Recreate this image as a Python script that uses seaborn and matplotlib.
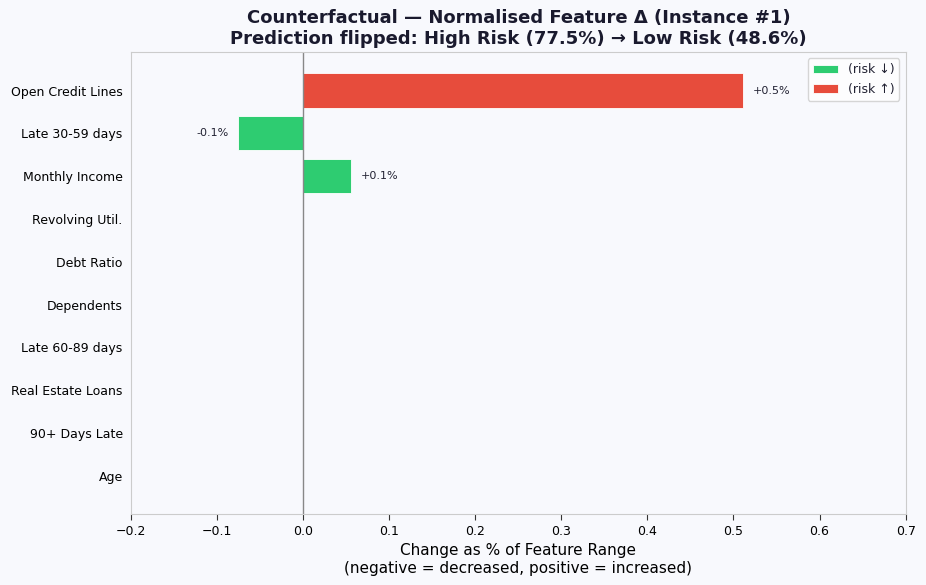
import matplotlib
matplotlib.use("Agg")
import matplotlib.pyplot as plt
import seaborn as sns
import pandas as pd

features = ["Open Credit Lines", "Late 30-59 days", "Monthly Income", "Revolving Util.",
            "Debt Ratio", "Dependents", "Late 60-89 days", "Real Estate Loans",
            "90+ Days Late", "Age"]
deltas = [0.511, -0.0755, 0.0557, 0.0, 0.0, 0.0, 0.0, 0.0, 0.0, 0.0]
labels = ["+0.5%", "-0.1%", "+0.1%", "", "", "", "", "", "", ""]
groups = ["(risk ↑)", "(risk ↓)", "(risk ↓)", "(risk ↓)", "(risk ↓)", "(risk ↓)",
          "(risk ↓)", "(risk ↓)", "(risk ↓)", "(risk ↓)"]

df = pd.DataFrame({"feature": features, "delta": deltas, "group": groups})

sns.set_style("white")
bg = "#f8f9fd"
fig, ax = plt.subplots(figsize=(9.26, 5.85), dpi=100)
fig.patch.set_facecolor(bg)
ax.set_facecolor(bg)

sns.barplot(data=df, x="delta", y="feature", hue="group", hue_order=["(risk ↓)", "(risk ↑)"],
            palette={"(risk ↓)": "#2ecc71", "(risk ↑)": "#e74c3c"}, dodge=False, saturation=1,
            orient="h", width=0.8, edgecolor="white", linewidth=0.6, ax=ax)

ax.axvline(0, color="#888888", linewidth=1.0)
for i, (v, t) in enumerate(zip(deltas, labels)):
    if not t:
        continue
    if v >= 0:
        ax.text(v + 0.011, i, t, ha="left", va="center", fontsize=8, color="#222233")
    else:
        ax.text(v - 0.011, i, t, ha="right", va="center", fontsize=8, color="#222233")

ax.set_xlim(-0.2, 0.7)
ax.set_ylim(9.9, -0.9)
ax.set_ylabel("")
ax.set_xlabel("Change as % of Feature Range\n(negative = decreased, positive = increased)",
              fontsize=11, color="black")
ax.set_title("Counterfactual — Normalised Feature Δ (Instance #1)\nPrediction flipped: High Risk (77.5%) → Low Risk (48.6%)",
             fontsize=13, fontweight="bold", color="#1a1a2e")
ax.tick_params(axis="both", labelsize=9, length=4, color="#333333", labelcolor="black")
ax.tick_params(axis="y", length=0, pad=6)
ax.tick_params(axis="x", bottom=True)
for s in ax.spines.values():
    s.set_color("#cccccc")
    s.set_linewidth(0.8)

leg = ax.legend(loc="upper right", fontsize=9, frameon=True, title=None)
leg.get_frame().set_edgecolor("#cccccc")
leg.get_frame().set_facecolor("white")
for t in leg.get_texts():
    t.set_color("#222233")

fig.subplots_adjust(left=0.1415, right=0.978, top=0.911, bottom=0.121)
fig.savefig("out.png", dpi=100, facecolor=bg)
